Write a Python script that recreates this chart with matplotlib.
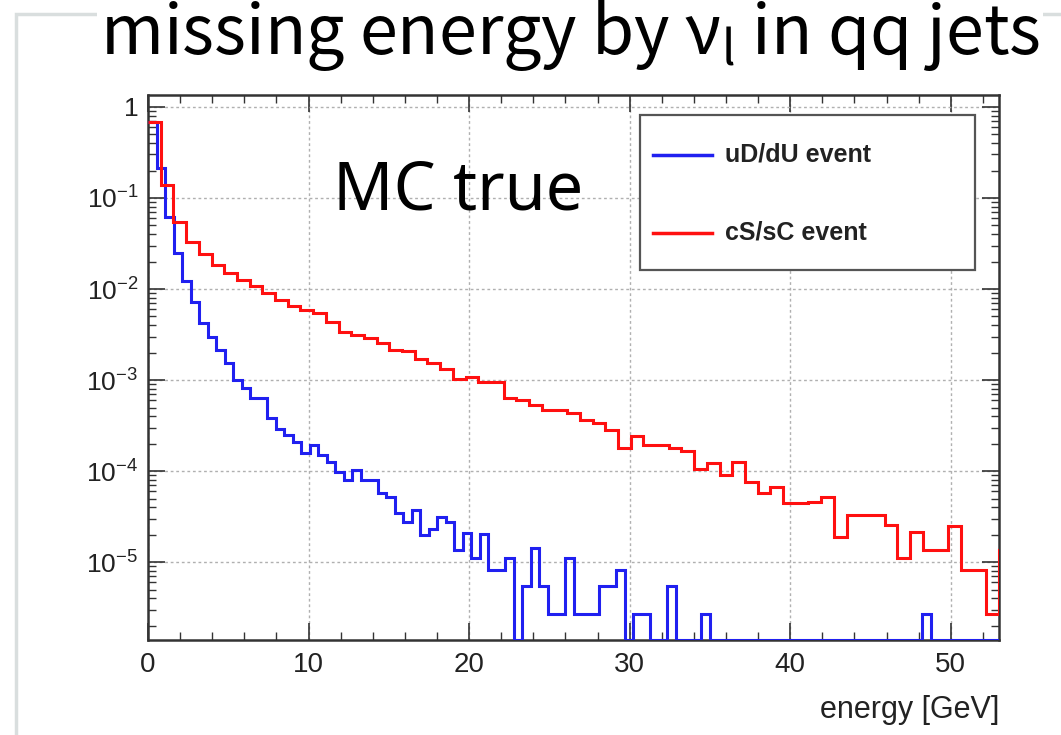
import numpy as np
import matplotlib
matplotlib.use("Agg")
import matplotlib.pyplot as plt
from matplotlib.ticker import LogLocator, MultipleLocator, NullFormatter
from matplotlib.patches import Rectangle
from matplotlib.lines import Line2D

plt.rcParams['font.family'] = ['Liberation Sans', 'DejaVu Sans']
plt.rcParams['mathtext.default'] = 'regular'

# histogram ranges (GeV)
X_MAX = 53.0
BLUE_NBINS = 100          # 0 .. 53 GeV
RED_WIDTH = 53.0 / 67     # red histogram bin width

# uD/dU event, normalised entries per bin (0 = empty bin)
blue_vals = [
    0.69, 0.212, 0.0624, 0.0247, 0.0123, 0.0072, 0.0042, 0.003, 0.00214, 0.00153,
    0.001, 0.00081, 0.00063, 0.00063, 0.00038, 0.000294, 0.000249, 0.00021, 0.000157, 0.000193,
    0.00015, 0.000127, 9.8e-5, 7.96e-5, 0.000103, 7.96e-5, 7.96e-5, 5.69e-5, 5.22e-5, 3.5e-5,
    2.77e-5, 3.72e-5, 2.0e-5, 2.34e-5, 3.15e-5, 2.77e-5, 1.36e-5, 2.07e-5, 1.1e-5, 2.03e-5,
    8.3e-6, 8.3e-6, 1.1e-5, 0, 5.5e-6, 1.42e-5, 5.5e-6, 2.73e-6, 2.73e-6, 1.1e-5,
    2.73e-6, 2.73e-6, 2.73e-6, 5.5e-6, 5.5e-6, 8.3e-6, 0, 2.73e-6, 2.73e-6, 0,
    0, 5.5e-6, 0, 0, 0, 2.73e-6, 0, 0, 0, 0,
    0, 0, 0, 0, 0, 0, 0, 0, 0, 0,
    0, 0, 0, 0, 0, 0, 0, 0, 0, 0,
    0, 2.73e-6, 0, 0, 0, 0, 0, 0, 0, 0,
]

# cS/sC event
red_vals = [
    0.69, 0.139, 0.054, 0.0331, 0.0243, 0.0184, 0.0151, 0.01265, 0.0108, 0.00898,
    0.00757, 0.00646, 0.00588, 0.0054, 0.00437, 0.0034, 0.00312, 0.00287, 0.00253, 0.00214,
    0.00208, 0.0017, 0.00156, 0.00134, 0.00104, 0.00109, 0.000957, 0.000957, 0.000643, 0.000598,
    0.000538, 0.000468, 0.000468, 0.00043, 0.000363, 0.000334, 0.000282, 0.000178, 0.000243, 0.000193,
    0.000193, 0.000178, 0.000167, 0.000105, 0.000124, 9.04e-5, 0.000127, 7.62e-5, 5.69e-5, 6.62e-5,
    4.42e-5, 4.42e-5, 4.6e-5, 5.22e-5, 1.9e-5, 3.28e-5, 3.28e-5, 3.28e-5, 2.55e-5, 1.1e-5,
    2.15e-5, 1.36e-5, 1.36e-5, 2.51e-5, 8.3e-6, 8.3e-6, 2.73e-6, 1.36e-5,
]

labels = ["uD/dU event", "cS/sC event"]
colors = ["#2020f0", "#ff1010"]

Y_MIN, Y_MAX = 1.4e-6, 1.35

W, H = 1061, 735
fig = plt.figure(figsize=(W / 100, H / 100), dpi=100)

# faint slide frame on the left
fig.patches.append(Rectangle((16 / W, -0.1), 1.2, 1 - 14 / H + 0.1, transform=fig.transFigure,
                             fill=False, edgecolor="#d9dede", lw=2.5))

ax = fig.add_axes([148 / W, 1 - 640 / H, (999 - 148) / W, (640 - 95) / H])
ax.set_yscale("log")

blue = np.array(blue_vals, dtype=float)
red = np.array(red_vals, dtype=float)
blue_edges = np.linspace(0, X_MAX, BLUE_NBINS + 1)
red_edges = np.arange(len(red) + 1) * RED_WIDTH

ax.stairs(np.where(blue > 0, blue, Y_MIN), blue_edges, baseline=None,
          color=colors[0], lw=2.2, zorder=3)
ax.stairs(np.where(red > 0, red, Y_MIN), red_edges, baseline=None,
          color=colors[1], lw=2.2, zorder=4)

ax.set_xlim(0, X_MAX)
ax.set_ylim(Y_MIN, Y_MAX)

ax.xaxis.set_major_locator(MultipleLocator(10))
ax.xaxis.set_minor_locator(MultipleLocator(2))
ax.set_yticks([1, 1e-1, 1e-2, 1e-3, 1e-4, 1e-5])
ax.set_yticklabels(["1", "$10^{-1}$", "$10^{-2}$", "$10^{-3}$", "$10^{-4}$", "$10^{-5}$"])
ax.yaxis.set_minor_locator(LogLocator(base=10, subs=np.arange(2, 10), numticks=20))
ax.yaxis.set_minor_formatter(NullFormatter())

ax.tick_params(which="both", direction="in", top=True, right=True, color="#333333")
ax.tick_params(which="major", length=12, width=1.2)
ax.tick_params(which="minor", length=6, width=1.0)
ax.tick_params(axis="x", labelsize=20, pad=9, labelcolor="#222222")
ax.tick_params(axis="y", labelsize=19, pad=7, labelcolor="#222222")

ax.grid(True, which="major", color="#b0b0b0", linestyle=(0, (2, 2)), lw=1.0)
ax.set_axisbelow(True)
for sp in ax.spines.values():
    sp.set_linewidth(1.8)
    sp.set_color("#333333")

ax.set_xlabel("energy [GeV]", fontsize=22, color="#222222", loc="right", labelpad=12)

# legend box drawn ROOT-style
fig.patches.append(Rectangle((640 / W, 1 - 270 / H), 335 / W, 155 / H, transform=fig.transFigure,
                             facecolor="white", edgecolor="#555555", lw=1.6, zorder=5))
for i, (lab, col) in enumerate(zip(labels, colors)):
    yy = 1 - (155 + 78 * i) / H
    fig.lines.append(Line2D([653 / W, 712 / W], [yy, yy], transform=fig.transFigure,
                            color=col, lw=2.5, zorder=6))
    fig.text(725 / W, yy, lab, fontsize=18, fontweight="bold", color="#222222",
             va="center", ha="left", zorder=6)

fig.text(333 / W, 1 - 210 / H, "MC true", fontsize=48, family=["Noto Sans", "DejaVu Sans"],
         va="baseline", ha="left")

fig.text(100 / W, 1 - 54 / H, r"missing energy by ν$_{\mathregular{l}}$ in qq jets",
         fontsize=49, family=["Noto Sans CJK KR", "DejaVu Sans"], va="baseline", ha="left",
         bbox=dict(facecolor="white", edgecolor="none", pad=2))

fig.savefig("out.png", dpi=100)
